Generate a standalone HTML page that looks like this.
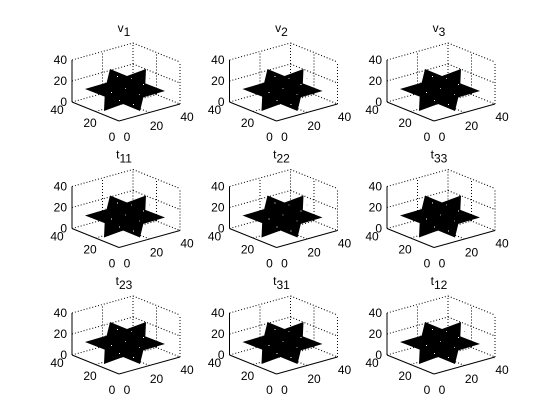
<!DOCTYPE html>
<html><head><meta charset="utf-8"><style>
html,body{margin:0;padding:0;background:#fff;}
svg{display:block;font-family:"Liberation Sans",sans-serif;}
</style></head><body>
<svg id="fig" width="560" height="420" viewBox="0 0 560 420" xmlns="http://www.w3.org/2000/svg">
<rect width="560" height="420" fill="#fff"/>
</svg>
<script>
const titles = ["v","v","v","t","t","t","t","t","t"];
const subs = ["1","2","3","11","22","33","23","31","12"];
const zTicks = ["0","20","40"];
const yTicks = ["40","20","0"];
const xTicks = ["0","20","40"];
const starTips = [[40,1],[21,-21],[-15,-21],[-40,-1],[-21,21],[15,21]];
const starDots = [[-20,-8],[-8,-14],[6,-12],[18,-6],[-14,2],[0,-2],[14,4],[-6,10],[8,14],[24,-12],[-2,16]];
const dotColors = ["#f88","#fff","#99f","#fff","#fff","#f88","#99f","#fff","#fff","#f88","#fff"];

const NS="http://www.w3.org/2000/svg";
const svg=document.getElementById('fig');
function mk(t,at,p){const e=document.createElementNS(NS,t);for(const k in at)e.setAttribute(k,at[k]);(p||svg).appendChild(e);return e;}
const colX=[72,229.5,387], rowY=[102,228.5,355];
const A=[47,19], B=[61,-17], H=42;
const yOff=[[-15,8],[-5.5,11.5],[-7,16]];
const xOff=[[8,16],[7,13.5],[7,13]];
for(let i=0;i<9;i++){
  const Lx=colX[i%3], Ly=rowY[Math.floor(i/3)];
  const g=mk('g',{});
  
  
  const P=(x,y,z)=>[Lx+A[0]*(1-y/40)+B[0]*x/40, Ly+A[1]*(1-y/40)+B[1]*x/40-H*z/40];
  const line=(p,q,dot,name)=>{const l=mk('line',{x1:p[0],y1:p[1],x2:q[0],y2:q[1],stroke:'#000','stroke-width':1,'stroke-dasharray':dot?'1,2':'none'},g);};
  for(const z of [20,40]){line(P(0,40,z),P(40,40,z),true,'grid-line');line(P(40,40,z),P(40,0,z),true,'grid-line');}
  for(const t of [20,40]){line(P(t,40,0),P(t,40,40),true,'grid-line');line(P(40,t,0),P(40,t,40),true,'grid-line');}
  line(P(40,0,0),P(40,0,40),true,'box-edge');
  line(P(20,0,0),P(20,40,0),true,'grid-line');line(P(0,20,0),P(40,20,0),true,'grid-line');
  line(P(0,40,0),P(40,40,0),true,'grid-line');line(P(40,40,0),P(40,0,0),true,'grid-line');
  line(P(0,40,0),P(0,40,40),false,'z-axis');
  line(P(0,40,0),P(0,0,0),false,'y-axis');
  line(P(0,0,0),P(40,0,0),false,'x-axis');
  const cx=Lx+53, cy=Ly-12;
  const pts=[];
  for(let k=0;k<6;k++){const a=starTips[k],b=starTips[(k+1)%6];pts.push([cx+a[0],cy+a[1]]);pts.push([cx+(a[0]+b[0])/3,cy+(a[1]+b[1])/3]);}
  const st=mk('polygon',{points:pts.map(p=>p.join(',')).join(' '),fill:'#000'},g);
  
  
  starDots.forEach((d,k)=>{const r=mk('rect',{x:cx+d[0],y:cy+d[1],width:1,height:1,fill:dotColors[k]},g);
    
    });
  const txt=(x,y,s,anchor,name)=>{const t=mk('text',{x:x,y:y,'font-size':12,'text-anchor':anchor,'dominant-baseline':'central',fill:'#000'},g);t.textContent=s;return t;};
  zTicks.forEach((s,k)=>{const p=P(0,40,k*20);txt(p[0]-5,p[1],s,'end','z-tick-label');});
  yTicks.forEach((s,k)=>{const p=P(0,40-k*20,0);txt(p[0]+yOff[k][0],p[1]+yOff[k][1],s,'middle','y-tick-label');});
  xTicks.forEach((s,k)=>{const p=P(k*20,0,0);txt(p[0]+xOff[k][0],p[1]+xOff[k][1],s,'middle','x-tick-label');});
  const tt=mk('text',{x:Lx+52,y:Ly-70,'font-size':12,'text-anchor':'middle',fill:'#000'},g);
  
  
  tt.appendChild(document.createTextNode(titles[i]));
  const ts=mk('tspan',{dy:4,'font-size':12},tt);ts.textContent=subs[i];
}
</script>
</body></html>
